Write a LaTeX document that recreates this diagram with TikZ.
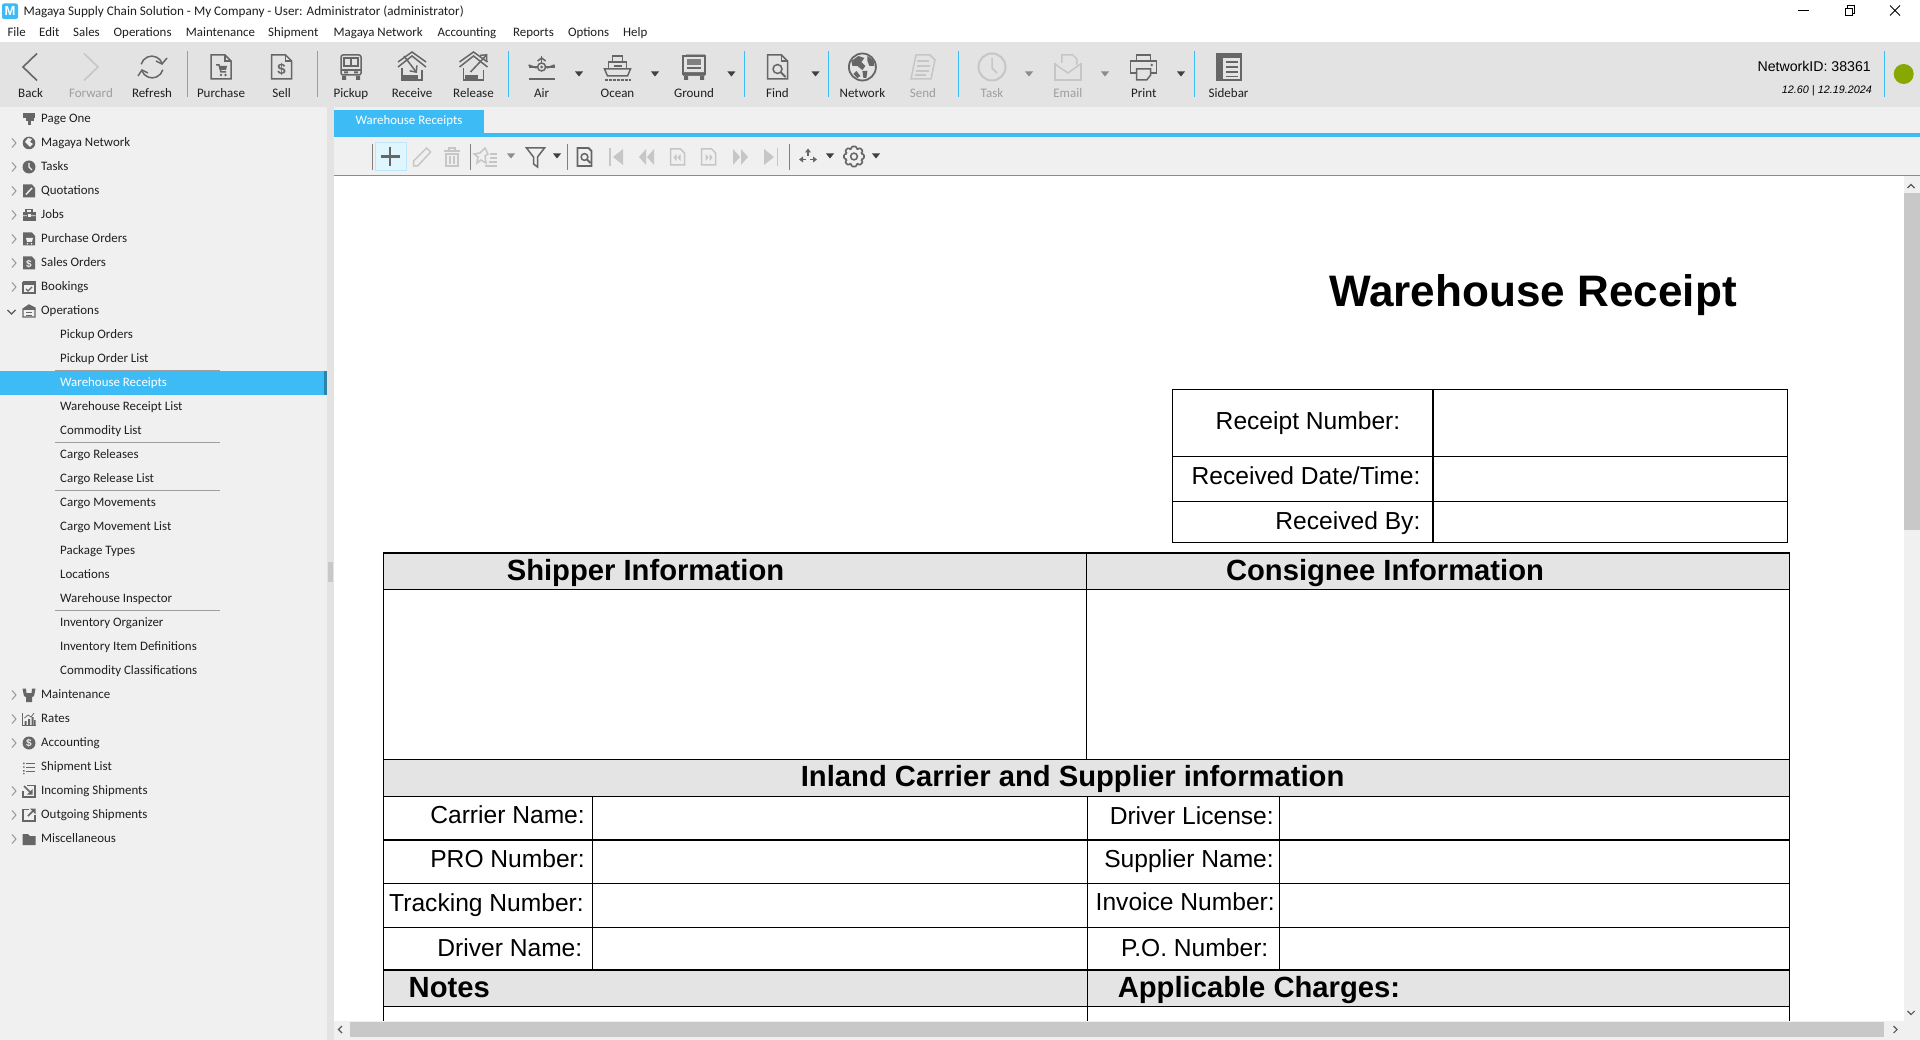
\documentclass[tikz,border=0pt]{standalone}
\usepackage{fontspec}
\usetikzlibrary{arrows.meta}
\setmainfont{Liberation Sans}
\newfontfamily\uifont{Carlito}
\definecolor{barblue}{HTML}{3DBBF5}
\definecolor{tbgray}{HTML}{E3E3E3}
\definecolor{panel}{HTML}{F0F0F0}
\definecolor{ic}{HTML}{666666}
\definecolor{icoff}{HTML}{C6C6C6}
\definecolor{thumb}{HTML}{C8C8C8}
\definecolor{hdr}{HTML}{E4E4E4}
\definecolor{online}{HTML}{87A800}
\tikzset{x=1pt,y=-1pt,
 ui/.style={font=\uifont\fontsize{12.9}{14}\selectfont,text=black!88,inner sep=0pt,yshift=-1.2pt},
 tbl/.style={font=\uifont\fontsize{13}{14}\selectfont,text=black!88,inner sep=0pt,anchor=mid,yshift=-0.6pt},
 tbloff/.style={tbl,text=black!38},
 sblab/.style={ui,anchor=mid west},
 frmlab/.style={font=\fontsize{24.6}{26}\selectfont,inner sep=0pt,anchor=mid east,yshift=-5.3pt},
 frmhead/.style={font=\bfseries\fontsize{29.2}{31}\selectfont,inner sep=0pt,yshift=-7.3pt},
 grid/.style={draw=black,line width=1.2pt},
 tbsep/.style={draw=barblue,line width=0.8pt},
 tb2sep/.style={draw=black!50,line width=0.8pt},
 sbsep/.style={draw=black!38,line width=0.9pt},
 pic1/.style={color=ic,line width=1.5pt},
 picoff/.style={color=icoff,line width=1.5pt},
 chev/.style={draw=black!40,line width=1pt},
 pics/docshape/.style={code={\draw (-10,-12) -- (4,-12) -- (10,-6) -- (10,12) -- (-10,12) -- cycle; \draw (4,-12) -- (4,-6) -- (10,-6);}},
 pics/purchase/.style={code={\pic {docshape}; \draw (-5,-2) -- (-2,-2) -- (0,5) -- (5,5); \fill (-2,-1) -- (6,-1) -- (5,3) -- (-1,3) -- cycle; \fill (0,8) circle[radius=1.3] (4.5,8) circle[radius=1.3];}},
 pics/sellic/.style={code={\pic {docshape}; \node[inner sep=0pt,text=ic,font=\bfseries\fontsize{15}{15}\selectfont] (dollarsign) at (0,2) {\$};}},
 pics/van/.style={code={\draw[rounded corners=2pt] (-10,-12) rectangle (10,8); \draw (-7,-9) rectangle (7,-1); \draw (0,-9) -- (0,-1); \draw (-10,3) -- (10,3); \fill (-9,9) rectangle (-5,13) (5,9) rectangle (9,13); \fill (-7,4.5) rectangle (-3,6.5) (3,4.5) rectangle (7,6.5);}},
 pics/houseic/.style={code={\draw (-14,-1) -- (0,-12) -- (14,-1); \draw (-14,-6) -- (0,-16) -- (14,-6); \draw (-10,0) -- (-10,12) -- (10,12) -- (10,2);}},
 pics/receive/.style={code={\pic {houseic}; \draw[-{Straight Barb[length=5pt,width=9pt]}] (-8,-12) -- (5,5); \fill (-9,7) rectangle (6,11);}},
 pics/release/.style={code={\pic {houseic}; \draw[-{Straight Barb[length=5pt,width=9pt]}] (-3,4) -- (14,-14); \fill (-9,7) rectangle (4,11);}},
 pics/airic/.style={code={\draw (-13,0) -- (-4,0) (4,0) -- (13,0); \draw (-13,-2) -- (-5,1) (13,-2) -- (5,1); \draw (0,0) circle[radius=4]; \fill (0,0) circle[radius=1.6]; \draw (0,-4) -- (0,-11); \draw (-4,-6) -- (0,-9) -- (4,-6); \draw[line width=2pt] (-13,12) -- (13,12);}},
 pics/ocean/.style={code={\draw (-13,2) -- (13,2) -- (10,9) -- (-10,9) -- cycle; \draw (-9,2) -- (-9,-5) -- (9,-5) -- (9,2); \draw (-5,-5) -- (-5,-11) -- (5,-11) -- (5,-5); \draw (-4,-1) -- (4,-1); \draw[dash pattern=on 3pt off 1pt,line width=1.2pt] (-13,13) -- (13,13);}},
 pics/groundic/.style={code={\fill[opacity=.45] (-8,-13) rectangle (11,-10); \draw (-11,-11) rectangle (11,7); \fill[opacity=.8] (-7,-8) rectangle (7,-2); \draw (-7,1) -- (7,1); \fill[opacity=.85] (-11,5) rectangle (11,9); \fill (-10,9) rectangle (-6,13) (6,9) rectangle (10,13);}},
 pics/findic/.style={code={\pic {docshape}; \draw (0,2) circle[radius=4.5]; \draw[line width=2pt] (3,5) -- (8,10);}},
 pics/network/.style={code={\draw[line width=1.8pt] (0,0) circle[radius=13.5]; \fill (-11,-6) -- (-4,-11) -- (2,-9) -- (-1,-5) -- (3,-1) -- (0,3) -- (-5,-1) -- (-10,-1) -- cycle; \fill (0,4) -- (5,4) -- (4,11) -- (1,11) -- cycle; \fill (5,-11) -- (11,-7) -- (12,-1) -- (7,-1) -- (5,-6) -- cycle; \fill (-6,4) -- (-2,9) -- (-5,11) -- (-9,7) -- cycle;}},
 pics/sendic/.style={code={\draw (-7,-12) -- (7,-12) -- (12,-7) -- (8,12) -- (-12,12) -- cycle; \draw (-6,-6) -- (6,-6) (-6,-1) -- (7,-1) (-7,4) -- (6,4) (-8,8) -- (3,8);}},
 pics/taskic/.style={code={\draw[line width=2pt] (0,0) circle[radius=13.5]; \draw (0,-9) -- (0,1) -- (5,6);}},
 pics/emailic/.style={code={\draw (-6,-4) -- (-6,-12) -- (5,-12) -- (9,-8) -- (9,-2); \draw (-13,-4) -- (-13,13) -- (13,13) -- (13,-4); \draw (-13,-3) -- (0,6) -- (13,-3);}},
 pics/printic/.style={code={\draw (-7,-6) -- (-7,-12) -- (7,-12) -- (7,-6); \draw (-7,6) -- (-13,6) -- (-13,-6) -- (13,-6) -- (13,6) -- (7,6); \draw (-7,2) -- (-7,13) -- (3,13) -- (7,8) -- (7,2) -- cycle; \fill (8,-2) circle[radius=1.4];}},
 pics/sidebaric/.style={code={\draw[line width=2pt] (-12,-13) rectangle (12,13); \fill (-12,-13) rectangle (12,-9); \fill (-12,-9) rectangle (-6,13); \draw (-3,-5) -- (9,-5) (-3,0) -- (9,0) (-3,5) -- (9,5) (-3,9.5) -- (9,9.5);}},
 pics/refreshic/.style={code={\draw (10,-4) arc[start angle=-22,end angle=-165,radius=11]; \draw (-10,4) arc[start angle=158,end angle=15,radius=11]; \draw (15,-9) -- (10,-3) -- (4,-6); \draw (-14,9) -- (-10,3) -- (-4,6);}},
 pics/tri/.style={code={\fill (-4,-2.5) -- (4,-2.5) -- (0,2.5) -- cycle;}},
 pics/pencilic/.style={code={\draw (-8,9) -- (-8,4) -- (5,-9) -- (9,-5) -- (-4,9) -- cycle;}},
 pics/trashic/.style={code={\draw (-8,-6) -- (8,-6); \draw (-3,-6) -- (-3,-9) -- (3,-9) -- (3,-6); \draw (-6,-3) rectangle (6,9); \draw (-2,-1) -- (-2,7) (2,-1) -- (2,7);}},
 pics/starlist/.style={code={\draw (-3,-9) -- (0,-3) -- (-3,-1) -- (-2,6) -- (-7,3) -- (-11,6) -- (-10,0) -- (-14,-3) -- (-8,-4) -- cycle; \draw (2,-3) -- (9,-3) (2,1) -- (9,1) (1,5) -- (9,5) (-3,9) -- (9,9);}},
 pics/filteric/.style={code={\draw (-9,-9) -- (9,-9) -- (2,0) -- (2,10) -- (-2,7) -- (-2,0) -- cycle;}},
 pics/docsearch/.style={code={\draw[line width=1.8pt] (-7,-9) -- (4,-9) -- (7,-6) -- (7,9) -- (-7,9) -- cycle; \draw (0,0) circle[radius=3.4]; \draw[line width=2pt] (2.5,2.5) -- (6,6);}},
 pics/firstic/.style={code={\fill (-7,-9) rectangle (-5.5,9); \fill (7,-8) -- (7,8) -- (-3,0) -- cycle;}},
 pics/lastic/.style={code={\fill (7,-9) rectangle (5.5,9); \fill (-7,-8) -- (-7,8) -- (3,0) -- cycle;}},
 pics/previc/.style={code={\fill (-1,-8) -- (-1,8) -- (-8,0) -- cycle; \fill (7,-8) -- (7,8) -- (0,0) -- cycle;}},
 pics/nextic/.style={code={\fill (1,-8) -- (1,8) -- (8,0) -- cycle; \fill (-7,-8) -- (-7,8) -- (0,0) -- cycle;}},
 pics/prevpage/.style={code={\draw (-7,-8) -- (3,-8) -- (7,-4) -- (7,8) -- (-7,8) -- cycle; \fill (-1,-3) -- (-1,4) -- (-4,0.5) -- cycle; \fill (3,-3) -- (3,4) -- (0,0.5) -- cycle;}},
 pics/nextpage/.style={code={\draw (-7,-8) -- (3,-8) -- (7,-4) -- (7,8) -- (-7,8) -- cycle; \fill (1,-3) -- (1,4) -- (4,0.5) -- cycle; \fill (-3,-3) -- (-3,4) -- (0,0.5) -- cycle;}},
 pics/movearrows/.style={code={\fill (0,-8) -- (3,-4) -- (-3,-4) -- cycle; \fill (-9,3) -- (-5,0) -- (-5,6) -- cycle; \fill (9,3) -- (5,0) -- (5,6) -- cycle; \draw (-6,3) -- (-2,3) (2,3) -- (6,3); \draw (0,-4) -- (0,0);}},
 pics/gearic/.style={code={\draw (0,0) circle[radius=3.4]; \draw[line width=1.6pt,rounded corners=1pt] (-2.3,-10) -- (2.3,-10) -- (3,-6.8) -- (6,-8.7) -- (8.9,-5.5) -- (6.9,-3) -- (10,-2) -- (10,2) -- (6.9,3) -- (8.9,5.5) -- (6,8.7) -- (3,6.8) -- (2.3,10) -- (-2.3,10) -- (-3,6.8) -- (-6,8.7) -- (-8.9,5.5) -- (-6.9,3) -- (-10,2) -- (-10,-2) -- (-6.9,-3) -- (-8.9,-5.5) -- (-6,-8.7) -- (-3,-6.8) -- cycle;}},
 %% sidebar icons
 pics/spage/.style={code={\fill (-6,-6) rectangle (6,-1); \fill (-3,-1) rectangle (5,2); \fill (-1,2) rectangle (2,6);}},
 pics/sglobe/.style={code={\fill (0,0) circle[radius=6.3]; \fill[panel] (-1,-5) -- (3,-4) -- (1,-1) -- (4,1) -- (1,4) -- (-2,1) -- (-4,-1) -- cycle;}},
 pics/sclock/.style={code={\fill (0,0) circle[radius=6.5]; \draw[panel,line width=1.3pt] (0,-4) -- (0,0) -- (3,3);}},
 pics/squote/.style={code={\fill (-6,-6.5) -- (3,-6.5) -- (6,-3) -- (6,6.5) -- (-6,6.5) -- cycle; \draw[panel,line width=1.5pt] (-3,3.5) -- (3,-3);}},
 pics/sjobs/.style={code={\fill (-6.5,-3) rectangle (6.5,6); \draw[line width=1.2pt] (-3,-3) -- (-3,-5.5) -- (3,-5.5) -- (3,-3); \fill[panel] (-6.5,0.5) rectangle (-2,1.2) (2,.5) rectangle (6.5,1.2); \fill[panel] (-1.5,-.5) rectangle (1.5,2);}},
 pics/spurch/.style={code={\fill (-6,-6.5) -- (3,-6.5) -- (6,-3) -- (6,6.5) -- (-6,6.5) -- cycle; \fill[panel] (-3,-1) -- (4,-1) -- (3,3) -- (-2,3) -- cycle; \fill[panel] (-1.5,4.7) circle[radius=.9] (2.5,4.7) circle[radius=.9];}},
 pics/ssales/.style={code={\fill (-6,-6.5) -- (3,-6.5) -- (6,-3) -- (6,6.5) -- (-6,6.5) -- cycle; \node[inner sep=0pt,text=panel,font=\bfseries\fontsize{10}{10}\selectfont] (sbdollar) at (0,1) {\$};}},
 pics/sbook/.style={code={\draw[line width=1.3pt] (-6,-4) rectangle (6,6); \fill (-6.5,-5.5) rectangle (6.5,-1.5); \draw[line width=1.3pt] (-3,2) -- (-1,4) -- (3,0);}},
 pics/sops/.style={code={\draw[line width=1.3pt] (-6,-2) -- (0,-6) -- (6,-3) -- (6,6) -- (-6,6) -- cycle; \fill (-6,-2) -- (0,-6) -- (6,-3) -- (6,-1) -- (-6,-1) -- cycle; \draw (-3,1.5) -- (3,1.5) (-3,4) -- (3,4);}},
 pics/smaint/.style={code={\fill (-6.5,-6.5) -- (-3,-6.5) -- (-2.5,-2) -- (2.5,-2) -- (3,-6.5) -- (6.5,-6.5) -- (5,1) -- (3,2) -- (3,7) -- (-3,7) -- (-3,2) -- (-5,1) -- cycle;}},
 pics/srates/.style={code={\draw[line width=.8pt] (-6.5,-6) -- (-6.5,6.5) -- (7,6.5); \fill (-4.5,2) rectangle (-2.5,6) (-1,0) rectangle (1,6) (2.5,-2) rectangle (4.5,6) (5,1) rectangle (6.5,6); \draw[line width=.8pt] (-4.5,-1) -- (-1,-4) -- (2,-2) -- (5,-6);}},
 pics/saccount/.style={code={\fill (0,0) circle[radius=6.5]; \node[inner sep=0pt,text=panel,font=\bfseries\fontsize{10}{10}\selectfont] (sbdollartwo) at (0,0) {\$};}},
 pics/sshiplist/.style={code={\fill (-6,-4.5) rectangle (-4.5,-3) (-6,-.7) rectangle (-4.5,.7) (-6,3) rectangle (-4.5,4.5) (-6,6) rectangle (-4.5,7); \draw[line width=1pt] (-3,-4) -- (6,-4) (-3,0) -- (6,0) (-3,4) -- (6,4);}},
 pics/sincome/.style={code={\draw[line width=1.5pt] (-2,-5.5) -- (6,-5.5) -- (6,6) -- (-6,6) -- (-6,0); \draw[line width=1.7pt] (-5,-5) -- (2,2); \fill (3.5,3.5) -- (3.5,-2) -- (-2,3.5) -- cycle;}},
 pics/soutgo/.style={code={\draw[line width=1.5pt] (0,-5.5) -- (-6,-5.5) -- (-6,6) -- (6,6) -- (6,0); \draw[line width=1.7pt] (-1,1) -- (5,-5); \fill (6.5,-6.5) -- (1,-6.5) -- (6.5,-1) -- cycle;}},
 pics/smisc/.style={code={\fill (-6.5,-5) -- (-1,-5) -- (1,-3) -- (6.5,-3) -- (6.5,6) -- (-6.5,6) -- cycle;}},
}
\begin{document}
\begin{tikzpicture}
\useasboundingbox (0,0) rectangle (1920,1040);
% ---------- backgrounds
\fill[white] (0,0) rectangle (1920,1040);
\fill[tbgray] (0,42) rectangle (1920,107);
\fill[panel] (0,107) rectangle (1920,176);
\fill[panel] (0,107) rectangle (327,1040);
\fill[tbgray] (327,107) rectangle (334,1040);
\fill[thumb] (328,562) rectangle (333,582);
\fill[white] (334,176) rectangle (1904,1021);
% ---------- title bar
\fill[barblue,rounded corners=2pt] (2,3.5) rectangle (18,19);
\node[font=\bfseries\fontsize{13}{13}\selectfont,text=white,inner sep=0pt,anchor=mid] (appicon) at (10,13) {M};
\node[ui,anchor=mid west,font=\uifont\fontsize{13.16}{14}\selectfont] (apptitle) at (23.3,12) {Magaya Supply Chain Solution - My Company - User: Administrator (administrator)};
\draw[black,line width=.9pt] (1798,10.5) -- (1809,10.5);
\draw[black,line width=.8pt] (1845,8) rectangle (1852,15.5);
\draw[black,line width=.8pt] (1847,8) -- (1847,5.5) -- (1854,5.5) -- (1854,13) -- (1852,13);
\draw[black,line width=.8pt] (1890,5.5) -- (1900,15.5) (1890,15.5) -- (1900,5.5);
% ---------- menu
\foreach \mx/\mt [count=\mi] in {7.3/File,39/Edit,73/Sales,113.5/Operations,185.7/Maintenance,268/Shipment,333.5/Magaya Network,437.5/Accounting,513/Reports,567.8/Options,623/Help}
  \node[ui,anchor=mid west] (menu\mi) at (\mx,33) {\mt};
% ---------- main toolbar
\foreach \sx in {187.3,317.5,508.6,744.5,828.6,958.4,1194.3,1884.5}
  \draw[tbsep] (\sx,51) -- (\sx,97);
\foreach \lx/\lt [count=\li] in {30.6/Back,152/Refresh,221/Purchase,281.6/Sell,351/Pickup,412/Receive,473.5/Release,541.6/Air,617.5/Ocean,694/Ground,777.5/Find,862.4/Network,1143.7/Print,1228.6/Sidebar}
  \node[tbl] (tb\li) at (\lx,94) {\lt};
\foreach \lx/\lt [count=\li] in {91/Forward,923/Send,992/Task,1067.8/Email}
  \node[tbloff] (tboff\li) at (\lx,94) {\lt};
\draw[ic,line width=1.6pt] (37,53.5) -- (23,67) -- (37,80.5);
\draw[icoff,line width=1.6pt] (84,53.5) -- (98,67) -- (84,80.5);
\pic[pic1] at (152,67) {refreshic};
\pic[pic1] at (221,67) {purchase};
\pic[pic1] at (281.6,67) {sellic};
\pic[pic1] at (351,67) {van};
\pic[pic1] at (412,68) {receive};
\pic[pic1] at (473.5,68) {release};
\pic[pic1] at (541.6,67) {airic};
\pic[pic1] at (617.5,67) {ocean};
\pic[pic1] at (694,67) {groundic};
\pic[pic1] at (777.5,67) {findic};
\pic[pic1] at (862.4,67) {network};
\pic[picoff] at (923,67) {sendic};
\pic[picoff] at (992,67) {taskic};
\pic[picoff] at (1067.8,67) {emailic};
\pic[pic1] at (1143.7,67) {printic};
\pic[pic1] at (1228.6,67) {sidebaric};
\foreach \tx in {579,655,731.4,815.5,1181}
  \pic[color=black!75] at (\tx,74) {tri};
\foreach \tx in {1029,1105}
  \pic[color=black!45] at (\tx,74) {tri};
\node[font=\fontsize{14.15}{16}\selectfont,inner sep=0pt,anchor=mid east,yshift=-3.5pt] (netid) at (1871,65.5) {NetworkID: 38361};
\node[font=\itshape\fontsize{10.8}{12}\selectfont,inner sep=0pt,anchor=mid east,yshift=-1.8pt] (version) at (1872,89) {12.60 | 12.19.2024};
\fill[online] (1903.7,74) ellipse[x radius=10,y radius=10];
% ---------- tab
\fill[barblue] (334,110) rectangle (484,133);
\fill[barblue] (334,133) rectangle (1920,137);
\node[ui,text=white,anchor=mid] (tabtext) at (409,121) {Warehouse Receipts};
% ---------- secondary toolbar
\draw[black!45,line width=1pt] (334,175.5) -- (1920,175.5);
\foreach \sx in {372,470,567,789}
  \draw[tb2sep] (\sx,144) -- (\sx,170);
\filldraw[fill=blue!30!cyan!12!white,draw=blue!40!cyan!25!white,line width=.8pt] (375,142.5) rectangle (406,170.5);
\draw[ic,line width=2.4pt] (390,147) -- (390,166) (380.5,156.5) -- (399.5,156.5);
\pic[picoff] at (421.6,157) {pencilic};
\pic[picoff] at (452,157) {trashic};
\pic[picoff] at (488,157) {starlist};
\pic[color=black!45] at (511,156) {tri};
\pic[pic1] at (535.5,157) {filteric};
\pic[color=black!75] at (557,156) {tri};
\pic[pic1] at (584.5,157) {docsearch};
\pic[color=icoff] at (616,157) {firstic};
\pic[color=icoff] at (647,157) {previc};
\pic[picoff] at (677.5,157) {prevpage};
\pic[picoff] at (708.6,157) {nextpage};
\pic[color=icoff] at (740,157) {nextic};
\pic[color=icoff] at (771,157) {lastic};
\pic[pic1] at (808,156.5) {movearrows};
\pic[color=black!75] at (830,156) {tri};
\pic[pic1] at (854,156.5) {gearic};
\pic[color=black!75] at (876,156) {tri};
% ---------- sidebar
\fill[barblue] (0,371) rectangle (327,395);
\fill[barblue!70!black] (324,371) rectangle (327,395);
\foreach \i/\t in {0/Page One,1/Magaya Network,2/Tasks,3/Quotations,4/Jobs,5/Purchase Orders,6/Sales Orders,7/Bookings,8/Operations,24/Maintenance,25/Rates,26/Accounting,27/Shipment List,28/Incoming Shipments,29/Outgoing Shipments,30/Miscellaneous}
  \node[sblab] (sb\i) at (41,{119+24*\i}) {\t};
\foreach \i/\t in {9/Pickup Orders,10/Pickup Order List,12/Warehouse Receipt List,13/Commodity List,14/Cargo Releases,15/Cargo Release List,16/Cargo Movements,17/Cargo Movement List,18/Package Types,19/Locations,20/Warehouse Inspector,21/Inventory Organizer,22/Inventory Item Definitions,23/Commodity Classifications}
  \node[sblab] (sb\i) at (60,{119+24*\i}) {\t};
\node[sblab,text=white] (sb11) at (60,383) {Warehouse Receipts};
\foreach \sy in {370,442,490,610}
  \draw[sbsep] (55,\sy) -- (220,\sy);
\foreach \i in {1,2,3,4,5,6,7,24,25,26,28,29,30}
  \draw[chev] (12,{119+24*\i-4.5}) -- (16,{119+24*\i}) -- (12,{119+24*\i+4.5});
\draw[black!65,line width=1.1pt] (7.5,310) -- (11.5,314) -- (15.5,310);
\foreach \i/\n in {0/spage,1/sglobe,2/sclock,3/squote,4/sjobs,5/spurch,6/ssales,7/sbook,8/sops,24/smaint,25/srates,26/saccount,27/sshiplist,28/sincome,29/soutgo,30/smisc}
  \pic[color=ic] at (29,{119+24*\i}) {\n};
% ---------- form
\node[font=\bfseries\fontsize{44.1}{46}\selectfont,inner sep=0pt,anchor=mid,yshift=-12.2pt] (formtitle) at (1533,292) {Warehouse Receipt};
\draw[grid] (1172.6,389.3) rectangle (1787.5,542.3);
\draw[grid] (1433,389.3) -- (1433,542.3);
\draw[grid] (1172.6,456.3) -- (1787.5,456.3) (1172.6,501.3) -- (1787.5,501.3);
\node[frmlab] (lreceipt) at (1400.5,421.5) {Receipt Number:};
\node[frmlab] (ldate) at (1420.6,477) {Received Date/Time:};
\node[frmlab] (lby) at (1420.6,521.5) {Received By:};
\fill[hdr] (383.5,553) rectangle (1789.5,589.3);
\fill[hdr] (383.5,759.3) rectangle (1789.5,796.3);
\fill[hdr] (383.5,970) rectangle (1789.5,1006.3);
\draw[grid] (383.5,1021) -- (383.5,553) -- (1789.5,553) -- (1789.5,1021);
\foreach \hy in {589.3,759.3,796.3,840,883.3,927.3,970,1006.3}
  \draw[grid] (383.5,\hy) -- (1789.5,\hy);
\draw[grid] (1086.5,553) -- (1086.5,759.3);
\draw[grid] (1087.5,796.3) -- (1087.5,1021);
\draw[grid] (592.6,796.3) -- (592.6,970);
\draw[grid] (1279.4,796.3) -- (1279.4,970);
\node[frmhead,anchor=mid] (lshipper) at (645.5,571) {Shipper Information};
\node[frmhead,anchor=mid] (lconsig) at (1385,571) {Consignee Information};
\node[frmhead,anchor=mid] (linland) at (1072.6,776.5) {Inland Carrier and Supplier information};
\node[frmlab] (lcarrier) at (585,816) {Carrier Name:};
\node[frmlab] (lpro) at (585,860) {PRO Number:};
\node[frmlab] (ltrack) at (584,904) {Tracking Number:};
\node[frmlab] (ldriver) at (582.5,949) {Driver Name:};
\node[frmlab] (llicense) at (1274,817) {Driver License:};
\node[frmlab] (lsupplier) at (1274,860) {Supplier Name:};
\node[frmlab] (linvoice) at (1275,902.7) {Invoice Number:};
\node[frmlab] (lpo) at (1268.5,949) {P.O. Number:};
\node[frmhead,anchor=mid west] (lnotes) at (408.5,988) {Notes};
\node[frmhead,anchor=mid west] (lcharges) at (1117.6,988) {Applicable Charges:};
% ---------- scrollbars
\fill[panel] (1904,176) rectangle (1920,1040);
\fill[panel] (334,1021) rectangle (1920,1040);
\fill[thumb] (1904,193) rectangle (1920,530);
\fill[thumb] (350,1022) rectangle (1884,1037);
\draw[black!65,line width=1.1pt] (1907.5,188) -- (1911,184.5) -- (1914.5,188);
\draw[black!65,line width=1.1pt] (1907.5,1011) -- (1911,1014.5) -- (1914.5,1011);
\draw[black!65,line width=1.1pt] (342,1026) -- (338.5,1029.5) -- (342,1033);
\draw[black!65,line width=1.1pt] (1893.5,1026) -- (1897,1029.5) -- (1893.5,1033);
\end{tikzpicture}
\end{document}
